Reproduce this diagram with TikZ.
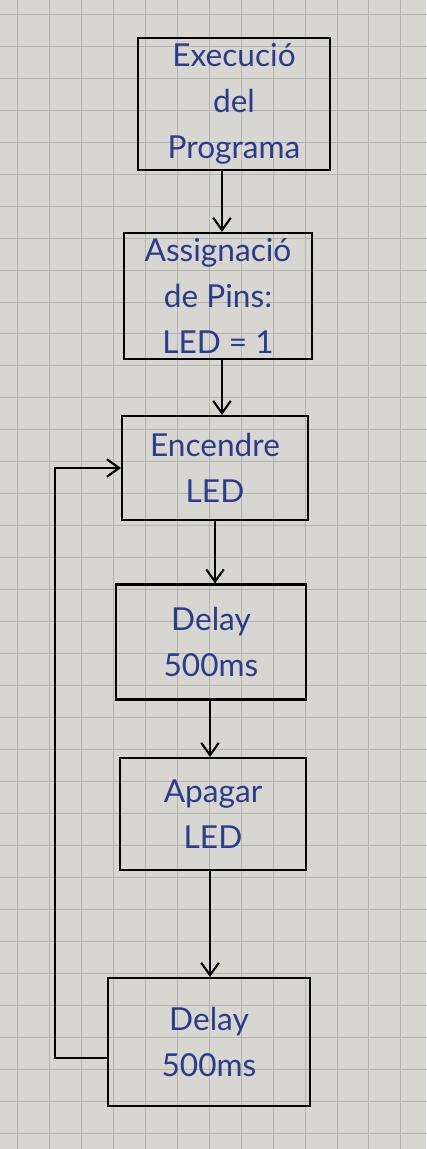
\documentclass[tikz,border=0pt]{standalone}
\usepackage{fontspec}
\setmainfont{Lato}
\usepackage{tikz}
\usetikzlibrary{positioning,arrows.meta}
\usepackage{xcolor}
\definecolor{paper}{HTML}{D8D6D1}
\definecolor{gridline}{HTML}{B5B3AE}
\definecolor{ink}{HTML}{2B3C8C}

\begin{document}
\begin{tikzpicture}[
    x=0.02cm, y=-0.02cm,
    box/.style={draw,line width=1.2pt,minimum width=3.75cm,minimum height=2.3cm,align=center,text=ink,font=\fontsize{18}{26}\selectfont},
    arr/.style={-{Straight Barb[length=7pt,width=10pt]},line width=1.2pt}
  ]
    % paper
    \fill[paper] (0,0) rectangle (426,1149);
    \useasboundingbox (0,0) rectangle (426,1149);
    \draw[gridline,line width=0.5pt,xstep=0.64cm,ystep=0.64cm,shift={(17,14)}] (-17,-14) grid (426,1149);

    % steps
    \node[box, minimum width=3.84cm, minimum height=2.64cm] (exec) at (234,104) {Execució\\del\\Programa};
    \node[box, minimum width=3.76cm, minimum height=2.48cm] (pins) at (218,296) {Assignació\\de Pins:\\LED = 1};
    \node[box, minimum width=3.72cm, minimum height=2.08cm] (encd) at (215,468) {Encendre\\LED};
    \node[box, minimum width=3.8cm, minimum height=2.3cm] (dly1) at (211,642) {Delay\\500ms};
    \node[box, minimum width=3.72cm, minimum height=2.24cm] (apag) at (213,814) {Apagar\\LED};
    \node[box, minimum width=4.04cm, minimum height=2.56cm] (dly2) at (209,1042) {Delay\\500ms};

    % Arrows
    \draw[arr] (exec.south -| 222,0) -- (pins.north -| 222,0);
    \draw[arr] (pins.south -| 222,0) -- (encd.north -| 222,0);
    \draw[arr] (encd.south -| 215,0) -- (dly1.north -| 215,0);
    \draw[arr] (dly1.south -| 210,0) -- (apag.north -| 210,0);
    \draw[arr] (apag.south -| 210,0) -- (dly2.north -| 210,0);
    \draw[arr] ([yshift=-0.32cm]dly2.west) -- ++(-52,0) |- (encd.west);
  \end{tikzpicture}
\end{document}
